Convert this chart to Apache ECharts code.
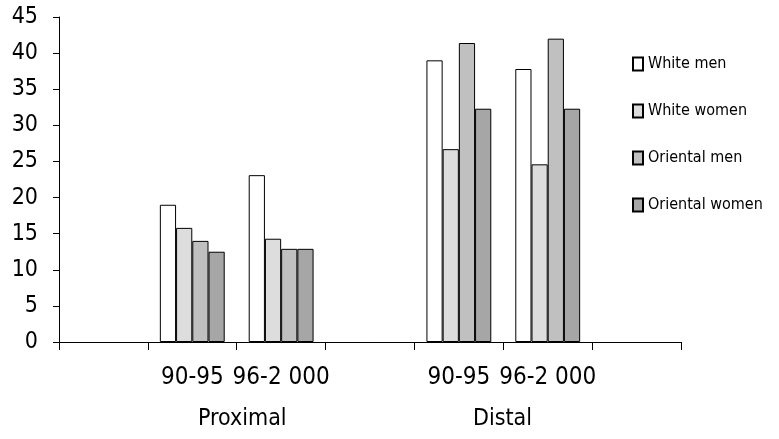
<!DOCTYPE html>
<html lang="en">
<head>
    <meta charset="UTF-8">
    <script type="text/javascript" src="https://cdn.jsdelivr.net/npm/echarts@6/dist/echarts.min.js"></script>
    <title>fracture rates</title>
    <style>
        html, body { margin: 0; padding: 0; background: #fff; }
        #chart { width: 779px; height: 439px; }
    </style>
</head>
<body>
<div id="chart"></div>
<script type="text/javascript">
    // 7 slots on the axis: empty, Proximal x2, empty, Distal x2, empty
    var categories = ['', '90-95', '96-2 000', '', '90-95', '96-2 000', ''];
    var groupNames = ['Proximal', 'Distal'];
    var seriesNames = ['White men', 'White women', 'Oriental men', 'Oriental women'];

    var whiteMen      = ['-', 19.0, 23.1, '-', 39.0, 37.8, '-'];
    var whiteWomen    = ['-', 15.8, 14.3, '-', 26.7, 24.6, '-'];
    var orientalMen   = ['-', 14.0, 12.9, '-', 41.4, 42.0, '-'];
    var orientalWomen = ['-', 12.5, 12.9, '-', 32.3, 32.3, '-'];

    var yTicks = [0, 5, 10, 15, 20, 25, 30, 35, 40, 45];

    var fontName = '"DejaVu Sans Condensed", "DejaVu Sans", sans-serif';
    var barColors = ['#ffffff', '#dddddd', '#c0c0c0', '#a6a6a6'];
    var allData = [whiteMen, whiteWomen, orientalMen, orientalWomen];

    var chart = echarts.init(document.getElementById('chart'), null, {renderer: 'canvas'});

    var series = seriesNames.map(function (name, i) {
        return {
            name: name,
            type: 'bar',
            data: allData[i],
            barGap: '0%',
            barCategoryGap: '27%',
            itemStyle: {
                color: barColors[i],
                borderColor: '#000',
                borderWidth: 1
            }
        };
    });

    chart.setOption({
        animation: false,
        backgroundColor: '#fff',
        grid: {
            left: 59,
            right: 98,
            top: 17,
            bottom: 97
        },
        legend: {
            orient: 'vertical',
            left: 627,
            top: 51,
            itemWidth: 10,
            itemHeight: 13,
            itemGap: 31,
            icon: 'rect',
            data: seriesNames,
            textStyle: {
                fontFamily: fontName,
                fontSize: 16,
                color: '#000'
            }
        },
        xAxis: {
            type: 'category',
            data: categories,
            axisLine: {lineStyle: {color: '#000', width: 1}},
            axisTick: {show: true, length: 8, lineStyle: {color: '#000'}},
            axisLabel: {
                interval: 0,
                margin: 24,
                fontFamily: fontName,
                fontSize: 24,
                color: '#000'
            }
        },
        yAxis: {
            type: 'value',
            min: yTicks[0],
            max: yTicks[yTicks.length - 1],
            interval: 5,
            splitLine: {show: false},
            axisLine: {show: true, lineStyle: {color: '#000', width: 1}},
            axisTick: {show: true, length: 6, lineStyle: {color: '#000'}},
            axisLabel: {
                margin: 21,
                fontFamily: fontName,
                fontSize: 23,
                color: '#000'
            }
        },
        graphic: [
            {
                type: 'text',
                left: 198,
                top: 408,
                style: {text: groupNames[0], font: '23px ' + fontName, fill: '#000'}
            },
            {
                type: 'text',
                left: 473,
                top: 408,
                style: {text: groupNames[1], font: '23px ' + fontName, fill: '#000'}
            }
        ],
        series: series
    });
</script>
</body>
</html>
